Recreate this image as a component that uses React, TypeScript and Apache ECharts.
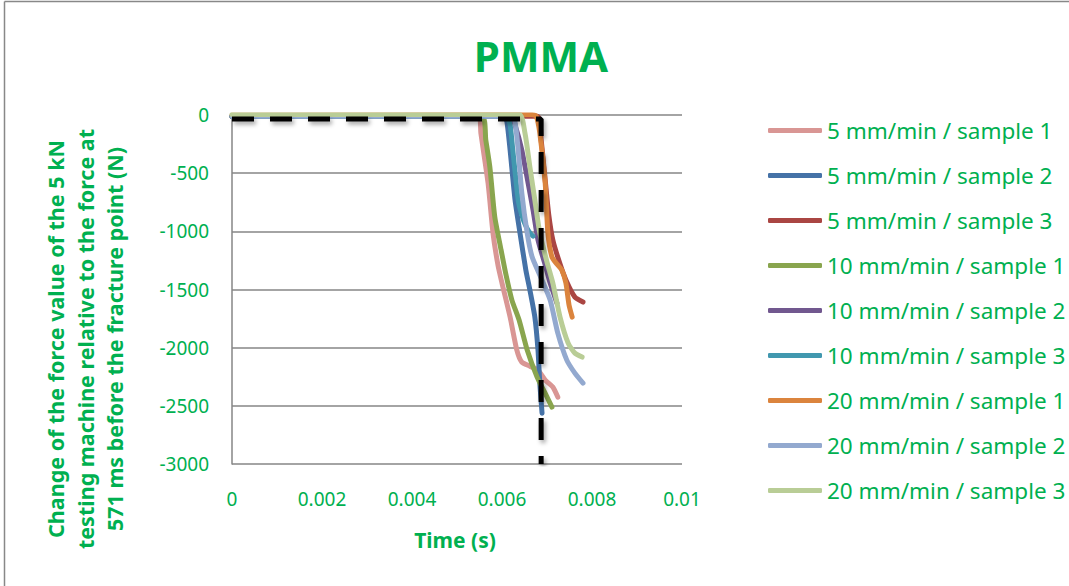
import React, { useEffect, useRef } from "react";
import * as echarts from "echarts";

const FONT = "'Noto Sans', 'Open Sans', sans-serif";
const GREEN = "#00B050";

const seriesNames = [
  "5 mm/min / sample 1",
  "5 mm/min / sample 2",
  "5 mm/min / sample 3",
  "10 mm/min / sample 1",
  "10 mm/min / sample 2",
  "10 mm/min / sample 3",
  "20 mm/min / sample 1",
  "20 mm/min / sample 2",
  "20 mm/min / sample 3",
];

const seriesColors = [
  "#D99694", "#4572A7", "#AA4643", "#89A54E", "#71588F",
  "#4198AF", "#DB843D", "#93A9CF", "#B9CD96",
];

const xTicks = [0, 0.002, 0.004, 0.006, 0.008, 0.01];
const yTicks = [0, -500, -1000, -1500, -2000, -2500, -3000];

const s5_1 = [[0, -10], [0.00549, -10], [0.00553, -155], [0.00569, -585], [0.0058, -1015], [0.00591, -1290], [0.006, -1445], [0.00618, -1737], [0.00633, -2021], [0.00644, -2124], [0.00662, -2159], [0.0068, -2193], [0.00696, -2279], [0.00713, -2339], [0.00724, -2425]];
const s5_2 = [[0, -10], [0.00605, -10], [0.00611, -60], [0.00618, -301], [0.00629, -731], [0.0064, -1015], [0.00653, -1333], [0.00662, -1505], [0.00673, -1737], [0.0068, -2021], [0.00684, -2305], [0.00689, -2563]];
const s5_3 = [[0, -10], [0.00678, -10], [0.00687, -215], [0.00696, -559], [0.00704, -860], [0.00713, -1075], [0.00729, -1281], [0.00744, -1436], [0.00762, -1565], [0.0078, -1608]];
const s10_1 = [[0, -10], [0.00556, -10], [0.00564, -215], [0.00573, -447], [0.00584, -877], [0.00598, -1161], [0.00609, -1376], [0.00622, -1591], [0.00638, -1763], [0.00656, -2021], [0.00678, -2253], [0.00698, -2408], [0.00711, -2511]];
const s10_2 = [[0, -10], [0.0062, -10], [0.00629, -86], [0.00644, -301], [0.00658, -585], [0.00669, -817], [0.0068, -1075], [0.00696, -1290], [0.00707, -1445], [0.00722, -1617]];
const s10_3 = [[0, -10], [0.00609, -10], [0.00618, -86], [0.00624, -301], [0.00636, -731], [0.00644, -860], [0.00653, -955], [0.00662, -1015], [0.00669, -1041]];
const s20_1 = [[0, 0], [0.00665, 5], [0.00676, -10], [0.00684, -155], [0.00696, -585], [0.00702, -1015], [0.00711, -1221], [0.00722, -1281], [0.00733, -1333], [0.00742, -1445], [0.00749, -1634], [0.00756, -1737]];
const s20_2 = [[0, -10], [0.00624, -10], [0.00629, -60], [0.00636, -301], [0.00644, -671], [0.00656, -1015], [0.00667, -1221], [0.00684, -1376], [0.00707, -1591], [0.00724, -1875], [0.00744, -2107], [0.00762, -2219], [0.0078, -2305]];
const s20_3 = [[0, 5], [0.00638, 5], [0.00651, -155], [0.00662, -447], [0.00673, -731], [0.00684, -1015], [0.007, -1264], [0.00713, -1445], [0.00729, -1737], [0.00747, -1961], [0.00762, -2047], [0.00778, -2081]];

const fractureLine = [[0, -35], [0.00687, -35], [0.00687, -3000]];

const allSeries = [s5_1, s5_2, s5_3, s10_1, s10_2, s10_3, s20_1, s20_2, s20_3];

const yTitle =
  "Change of the force value of the 5 kN\ntesting machine relative to the force at\n571 ms before the fracture point (N)";

export default function App() {
  const ref = useRef<HTMLDivElement>(null);
  useEffect(() => {
    if (!ref.current) return;
    const chart = echarts.init(ref.current, null, { renderer: "svg" });
    const lineSeries: any[] = allSeries.map((d, i) => ({
      name: seriesNames[i],
      type: "line",
      data: d,
      symbol: "none",
      smooth: 0.2,
      lineStyle: { color: seriesColors[i], width: 5, cap: "round", join: "round" },
      itemStyle: { color: seriesColors[i] },
      z: 2 + i * 0.01,
    }));
    lineSeries.push({
      name: "fracture",
      type: "line",
      data: fractureLine,
      symbol: "none",
      lineStyle: {
        color: "#000",
        width: 5,
        type: [22, 16],
        shadowColor: "rgba(0,0,0,0.35)",
        shadowBlur: 4,
        shadowOffsetX: 2,
        shadowOffsetY: 3,
      },
      z: 3,
    });
    chart.setOption({
      animation: false,
      backgroundColor: "#fff",
      grid: { left: 232, right: 387, top: 115, bottom: 122 },
      xAxis: {
        type: "value",
        min: xTicks[0],
        max: xTicks[xTicks.length - 1],
        interval: 0.002,
        axisLine: { show: false },
        axisTick: { show: false },
        splitLine: { show: false },
        axisLabel: {
          color: GREEN,
          fontSize: 19,
          fontFamily: FONT,
          margin: 25,
          formatter: (v: number) => String(+v.toFixed(3)),
        },
      },
      yAxis: {
        type: "value",
        min: yTicks[yTicks.length - 1],
        max: yTicks[0],
        interval: 500,
        axisLine: { show: true, lineStyle: { color: "#868686", width: 1.5 } },
        axisTick: { show: false },
        splitLine: { show: true, lineStyle: { color: "#868686", width: 1.5 } },
        axisLabel: {
          color: GREEN,
          fontSize: 19,
          fontFamily: FONT,
          margin: 23,
          formatter: (v: number) => String(Math.round(v)),
        },
      },
      legend: {
        orient: "vertical",
        left: 763,
        top: 114,
        data: seriesNames,
        icon: "roundRect",
        itemWidth: 54,
        itemHeight: 5,
        itemGap: 22,
        textStyle: { color: GREEN, fontSize: 22.5, fontFamily: FONT, lineHeight: 23 },
      },
      graphic: [
        {
          type: "line",
          shape: { x1: 4.5, y1: 1.5, x2: 1069, y2: 1.5 },
          style: { stroke: "#888", lineWidth: 1.5 },
        },
        {
          type: "line",
          shape: { x1: 4.5, y1: 1.5, x2: 4.5, y2: 586 },
          style: { stroke: "#888", lineWidth: 1.5 },
        },
        {
          type: "text",
          x: 541,
          y: 55,
          style: {
            text: "PMMA",
            fill: GREEN,
            font: `bold 42px ${FONT}`,
            textAlign: "center",
            textVerticalAlign: "middle",
          },
        },
        {
          type: "text",
          x: 85,
          y: 339,
          rotation: Math.PI / 2,
          style: {
            text: yTitle,
            fill: GREEN,
            font: `bold 21.5px ${FONT}`,
            lineHeight: 29.5,
            textAlign: "center",
            textVerticalAlign: "middle",
          },
        },
        {
          type: "text",
          x: 455,
          y: 540,
          style: {
            text: "Time (s)",
            fill: GREEN,
            font: `bold 21px ${FONT}`,
            textAlign: "center",
            textVerticalAlign: "middle",
          },
        },
      ],
      series: lineSeries,
    });
    return () => chart.dispose();
  }, []);
  return (
    <div
      ref={ref}
      style={{ position: "fixed", left: 0, top: 0, width: 1069, height: 586, background: "#fff" }}
    />
  );
}
